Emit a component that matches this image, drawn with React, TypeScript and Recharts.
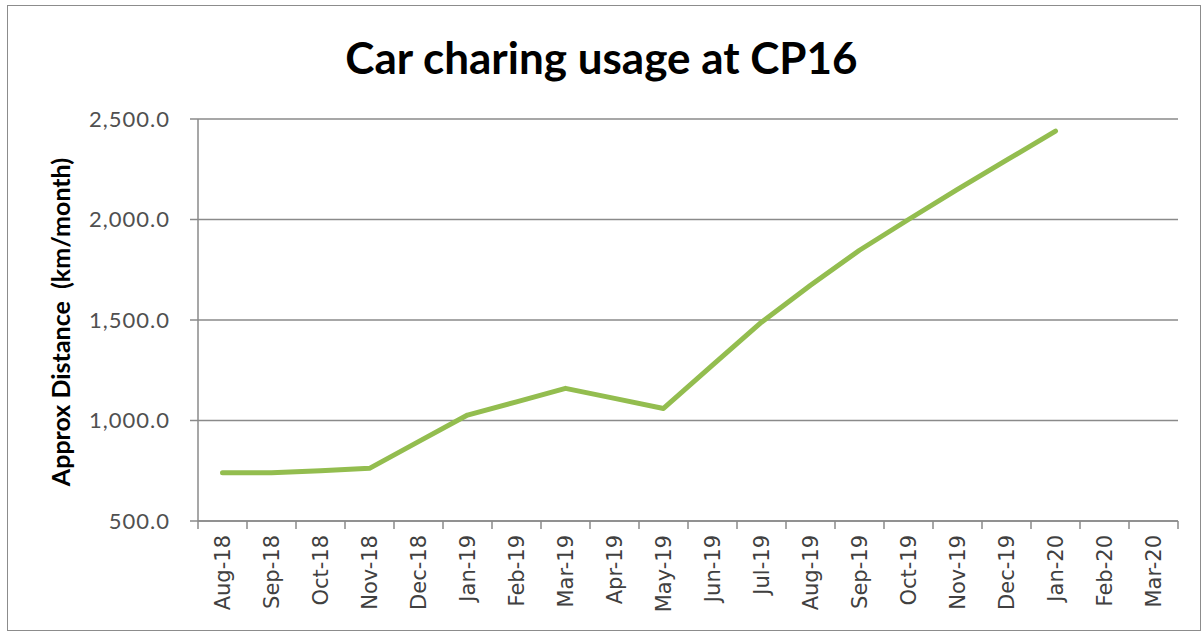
import { CartesianGrid, Label, Line, LineChart, XAxis, YAxis } from "recharts";

const months = [
  "Aug-18", "Sep-18", "Oct-18", "Nov-18", "Dec-18", "Jan-19", "Feb-19",
  "Mar-19", "Apr-19", "May-19", "Jun-19", "Jul-19", "Aug-19", "Sep-19",
  "Oct-19", "Nov-19", "Dec-19", "Jan-20", "Feb-20", "Mar-20"
];
const distance: (number | null)[] = [
  740, 740, 750, 762, 895, 1027, 1093, 1160, 1110, 1060,
  1275, 1489, 1673, 1847, 2000, 2150, 2295, 2440, null, null
];
const yTicks = [500, 1000, 1500, 2000, 2500];

const data = months.map((m, i) => ({ month: m, distance: distance[i] }));

const W = 1203;
const H = 635;
const MARGIN = { top: 119, right: 25, bottom: 0, left: 0 };
const Y_AXIS_W = 198;
const X_AXIS_H = 114;
// Excel puts the points between tick marks, so pad the point scale by half a band
const band = (W - MARGIN.left - MARGIN.right - Y_AXIS_W) / months.length;

const axisGray = "#8a8a8a";

const MonthTick = (props: any) => {
  const { x, y, payload, index } = props;
  const half = band / 2;
  const ty = y + 14;
  return (
    <g>
      <line x1={x - half} y1={y} x2={x - half} y2={y + 8} stroke={axisGray} strokeWidth={1.5} />
      {index === months.length - 1 && (
        <line x1={x + half} y1={y} x2={x + half} y2={y + 8} stroke={axisGray} strokeWidth={1.5} />
      )}
      <text
        x={x}
        y={ty}
        transform={`rotate(-90 ${x} ${ty})`}
        textAnchor="end"
        dominantBaseline="central"
        fontFamily="DejaVu Sans"
        fontSize={21}
        fill="#404040"
      >
        {payload.value}
      </text>
    </g>
  );
};

const fmt = (v: number) =>
  v.toLocaleString("en-US", { minimumFractionDigits: 1, maximumFractionDigits: 1 });

export default function App() {
  return (
    <div style={{ position: "relative", width: W, height: H, background: "#fff" }}>
      <style>{"body{margin:0}"}</style>
      <div
        style={{
          position: "absolute",
          left: 7,
          top: 5,
          width: 1194,
          height: 626,
          border: "1px solid #8c8c8c",
          boxSizing: "border-box"
        }}
      />
      <div
        style={{
          position: "absolute",
          left: 0,
          top: 35,
          width: W,
          textAlign: "center",
          fontFamily: "Lato",
          fontWeight: 700,
          fontSize: 44,
          lineHeight: 1,
          color: "#000"
        }}
      >
        Car charing usage at CP16
      </div>
      <div style={{ position: "absolute", left: 0, top: 0 }}>
        <LineChart width={W} height={H} data={data} margin={MARGIN}>
          <CartesianGrid horizontal vertical={false} stroke={axisGray} strokeWidth={1.5} />
          <XAxis
            dataKey="month"
            height={X_AXIS_H}
            interval={0}
            padding={{ left: band / 2, right: band / 2 }}
            tickLine={false}
            tickSize={0}
            tickMargin={0}
            axisLine={{ stroke: axisGray, strokeWidth: 1.5 }}
            tick={<MonthTick />}
          />
          <YAxis
            width={Y_AXIS_W}
            domain={[500, 2500]}
            ticks={yTicks}
            interval={0}
            tickFormatter={fmt}
            tickSize={8}
            tickMargin={20}
            tickLine={{ stroke: axisGray, strokeWidth: 1.5 }}
            axisLine={{ stroke: axisGray, strokeWidth: 1.5 }}
            tick={{ fill: "#505050", fontFamily: "Lato", fontSize: 22, letterSpacing: 1 }}
          >
            <Label
              content={() => (
                <text
                  x={60}
                  y={322}
                  transform="rotate(-90 60 322)"
                  textAnchor="middle"
                  dominantBaseline="central"
                  fontFamily="Lato"
                  fontWeight={700}
                  fontSize={25}
                  fill="#000"
                  style={{ whiteSpace: "pre" }}
                >
                  {"Approx Distance  (km/month)"}
                </text>
              )}
            />
          </YAxis>
          <Line
            type="linear"
            dataKey="distance"
            stroke="#93bd4f"
            strokeWidth={5}
            strokeLinecap="round"
            strokeLinejoin="round"
            dot={false}
            activeDot={false}
            isAnimationActive={false}
          />
        </LineChart>
      </div>
    </div>
  );
}
